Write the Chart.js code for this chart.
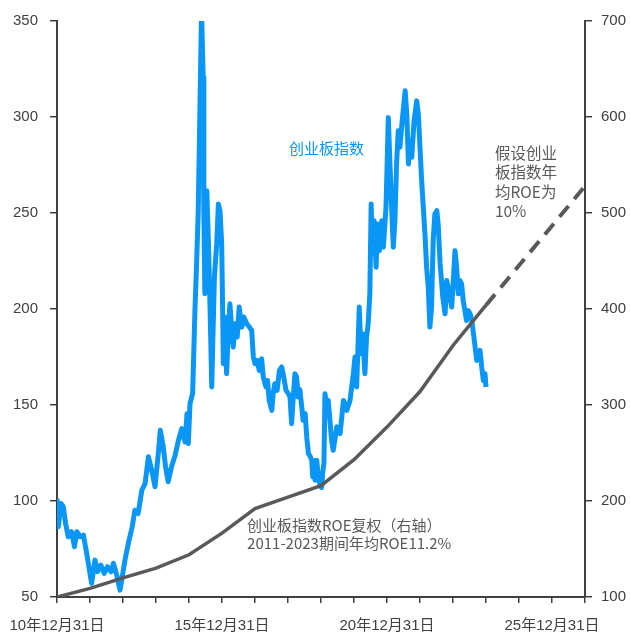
<!DOCTYPE html>
<html>
<head>
<meta charset="utf-8">
<script src="https://cdn.jsdelivr.net/npm/chart.js@4"></script>
<style>
  html, body { margin: 0; padding: 0; background: #fff; }
  #wrap { width: 630px; height: 632px; }
</style>
</head>
<body>
<div id="wrap"><canvas id="roeChart" width="630" height="632"></canvas></div>
<script>
// ChiNext index, 2010-12-31 = 100 (left axis)
const idxYears = [
  2011.00, 2011.04, 2011.12, 2011.19, 2011.26, 2011.34, 2011.44, 2011.53, 2011.60, 2011.70,
  2011.80, 2011.90, 2012.00, 2012.05, 2012.15, 2012.23, 2012.33, 2012.43, 2012.53, 2012.64,
  2012.71, 2012.81, 2012.91, 2012.96, 2013.06, 2013.16, 2013.28, 2013.36, 2013.46, 2013.57,
  2013.67, 2013.77, 2013.87, 2013.97, 2014.07, 2014.13, 2014.22, 2014.29, 2014.37, 2014.47,
  2014.58, 2014.68, 2014.78, 2014.88, 2014.94, 2014.98, 2015.03, 2015.11, 2015.18, 2015.23,
  2015.28, 2015.33, 2015.38, 2015.43, 2015.45, 2015.48, 2015.51, 2015.54, 2015.59, 2015.64,
  2015.69, 2015.72, 2015.77, 2015.84, 2015.89, 2015.94, 2015.99, 2016.02, 2016.04, 2016.09,
  2016.14, 2016.19, 2016.24, 2016.29, 2016.34, 2016.39, 2016.46, 2016.52, 2016.60, 2016.66,
  2016.75, 2016.83, 2016.90, 2016.95, 2017.00, 2017.07, 2017.13, 2017.20, 2017.25, 2017.33,
  2017.38, 2017.43, 2017.51, 2017.55, 2017.60, 2017.67, 2017.74, 2017.81, 2017.87, 2017.94,
  2018.01, 2018.06, 2018.11, 2018.16, 2018.21, 2018.26, 2018.31, 2018.36, 2018.41, 2018.46,
  2018.52, 2018.57, 2018.62, 2018.68, 2018.72, 2018.75, 2018.80, 2018.82, 2018.87, 2018.92,
  2018.97, 2019.02, 2019.05, 2019.09, 2019.12, 2019.17, 2019.22, 2019.32, 2019.37, 2019.48,
  2019.58, 2019.68, 2019.78, 2019.88, 2019.98, 2020.03, 2020.08, 2020.16, 2020.21, 2020.26,
  2020.33, 2020.38, 2020.43, 2020.48, 2020.52, 2020.57, 2020.61, 2020.67, 2020.71, 2020.77,
  2020.84, 2020.89, 2020.97, 2021.04, 2021.09, 2021.14, 2021.19, 2021.24, 2021.29, 2021.34,
  2021.39, 2021.47, 2021.55, 2021.60, 2021.65, 2021.70, 2021.75, 2021.82, 2021.90, 2021.95,
  2022.00, 2022.05, 2022.10, 2022.15, 2022.20, 2022.25, 2022.30, 2022.35, 2022.40, 2022.45,
  2022.51, 2022.55, 2022.61, 2022.69, 2022.76, 2022.81, 2022.89, 2022.96, 2023.01, 2023.06,
  2023.11, 2023.16, 2023.21, 2023.26, 2023.31, 2023.36, 2023.41, 2023.46, 2023.52, 2023.57,
  2023.62, 2023.67, 2023.72, 2023.77, 2023.82, 2023.87, 2023.92, 2023.97, 2024.00
];
const idxValues = [
  101.3, 86.6, 98.7, 97.0, 88.3, 81.4, 84.0, 76.2, 84.0, 81.4,
  82.2, 72.7, 62.3, 57.1, 69.2, 63.2, 66.6, 62.3, 65.8, 63.2,
  67.5, 61.4, 53.6, 58.8, 69.2, 77.9, 86.6, 95.2, 93.5, 105.6,
  109.1, 123.0, 116.0, 107.4, 124.7, 136.8, 128.2, 117.8, 110.0, 117.8,
  123.8, 131.6, 137.7, 130.8, 145.5, 129.9, 150.7, 155.9, 199.2, 223.5,
  251.0, 303.0, 355.0, 320.6, 251.0, 208.0, 244.0, 261.6, 234.0, 199.0,
  159.4, 182.0, 216.6, 234.0, 254.7, 251.0, 234.0, 199.0, 171.5, 195.8,
  166.3, 188.8, 202.7, 190.6, 180.2, 192.3, 185.4, 201.0, 190.6, 195.8,
  192.3, 190.6, 188.8, 175.0, 171.5, 173.2, 168.0, 174.1, 164.6, 159.4,
  162.8, 152.4, 147.2, 155.9, 161.1, 157.6, 168.0, 169.8, 164.6, 157.6,
  155.9, 154.2, 140.3, 154.2, 166.3, 164.6, 154.2, 158.0, 150.0, 142.0,
  145.5, 133.0, 124.7, 123.0, 121.2, 112.6, 121.0, 110.8, 121.2, 112.6,
  108.2, 107.0, 114.3, 120.0, 155.9, 150.0, 152.4, 131.6, 126.4, 138.6,
  135.1, 152.4, 147.2, 152.4, 166.3, 175.0, 159.4, 201.0, 176.7, 187.1,
  166.3, 185.4, 192.3, 207.9, 254.7, 228.7, 246.0, 221.8, 244.3, 230.4,
  246.0, 232.2, 253.0, 299.7, 275.5, 253.0, 232.2, 246.0, 275.5, 292.8,
  284.2, 299.7, 313.7, 301.5, 275.5, 287.6, 279.0, 298.0, 308.4, 301.5,
  284.2, 266.8, 253.0, 239.1, 221.8, 211.4, 190.6, 201.0, 235.7, 249.5,
  251.2, 244.3, 223.5, 206.2, 197.5, 214.8, 207.9, 201.0, 214.8, 230.4,
  221.8, 207.9, 214.8, 213.1, 204.4, 199.2, 194.0, 199.2, 197.5, 194.0,
  187.1, 180.2, 173.2, 176.7, 178.4, 169.8, 162.8, 166.3, 159.4
];

// ROE compounded (right axis), year-end points
const roeYears = [2011, 2012, 2013, 2014, 2015, 2016, 2017, 2018, 2019, 2020, 2021, 2022, 2023, 2024];
const roeValues = [100, 109, 120, 130, 144, 166.5, 192, 204, 216, 243, 277, 314, 362, 404];

// assumed 10% ROE extension (dashed)
const projYears = [2024, 2027];
const projValues = [404, 528];

// x axis
const xMin = 2011;
const xMax = 2027;
const labelEvery = 5;

const FONT = "'Liberation Sans', 'Noto Sans CJK SC', sans-serif";
const CJK = "'Noto Sans CJK SC', 'Liberation Sans', sans-serif";
const AXIS = "#404040";
const BLUE = "#0996f6";
const GREY = "#595959";

const toXY = (xs, ys) => xs.map((x, i) => ({ x, y: ys[i] }));

// text annotations placed in data coordinates
const notes = [
  { lines: ["创业板指数"], x: 2018.03, y: 283.5, axis: "y", color: BLUE, size: 15, gap: 19 },
  { lines: ["创业板指数ROE复权（右轴）", "2011-2023期间年均ROE11.2%"], x: 2016.76, y: 87.4, axis: "y", color: GREY, size: 15, gap: 18 },
  { lines: ["假设创业", "板指数年", "均ROE为", "10%"], x: 2024.27, y: 562.7, axis: "y1", color: GREY, size: 15.5, gap: 19.5 },
];

const notePlugin = {
  id: "notes",
  afterDatasetsDraw(chart) {
    const ctx = chart.ctx;
    const xs = chart.scales.x;
    ctx.save();
    notes.forEach((n) => {
      const px = xs.getPixelForValue(n.x);
      const py = chart.scales[n.axis].getPixelForValue(n.y);
      ctx.font = n.size + "px " + CJK;
      ctx.fillStyle = n.color;
      ctx.textAlign = "left";
      ctx.textBaseline = "middle";
      n.lines.forEach((t, i) => ctx.fillText(t, px, py + i * n.gap));
    });
    ctx.restore();
  },
};

new Chart(document.getElementById("roeChart"), {
  type: "line",
  data: {
    datasets: [
      {
        label: "创业板指数",
        data: toXY(idxYears, idxValues),
        yAxisID: "y",
        borderColor: BLUE,
        borderWidth: 5,
        pointRadius: 0,
        tension: 0,
        borderJoinStyle: "round",
        order: 1,
      },
      {
        label: "ROE复权",
        data: toXY(roeYears, roeValues),
        yAxisID: "y1",
        borderColor: GREY,
        borderWidth: 3.5,
        pointRadius: 0,
        tension: 0,
        order: 0,
      },
      {
        label: "假设10%",
        data: toXY(projYears, projValues),
        yAxisID: "y1",
        borderColor: GREY,
        borderWidth: 4,
        borderDash: [14, 9],
        pointRadius: 0,
        tension: 0,
        order: 0,
      },
    ],
  },
  options: {
    responsive: false,
    animation: false,
    devicePixelRatio: 1,
    layout: { padding: { top: 20, left: 0, right: 0, bottom: 0 } },
    plugins: { legend: { display: false }, tooltip: { enabled: false } },
    scales: {
      x: {
        type: "linear",
        min: xMin,
        max: xMax,
        afterFit: (s) => {
          s.height = 35;
          s.paddingLeft = 0;
          s.paddingRight = 0;
        },
        afterBuildTicks: (s) => {
          s.ticks = [];
          for (let v = xMin; v <= xMax; v++) s.ticks.push({ value: v });
        },
        ticks: {
          autoSkip: false,
          maxRotation: 0,
          padding: 14,
          color: AXIS,
          font: { size: 15, family: FONT },
          callback: (v) => ((v - xMin) % labelEvery === 0 ? ((v - 1) % 100) + "年12月31日" : ""),
        },
        grid: { drawOnChartArea: false, drawTicks: true, tickLength: 6, color: AXIS, lineWidth: 1.5 },
        border: { display: true, color: AXIS, width: 2 },
      },
      y: {
        position: "left",
        min: 50,
        max: 350,
        afterFit: (s) => { s.width = 57; },
        ticks: { stepSize: 50, padding: 12, color: AXIS, font: { size: 15, family: FONT } },
        grid: { drawOnChartArea: false, drawTicks: true, tickLength: 7, color: AXIS, lineWidth: 1.5 },
        border: { display: true, color: AXIS, width: 2 },
      },
      y1: {
        position: "right",
        min: 100,
        max: 700,
        afterFit: (s) => { s.width = 45; },
        ticks: { stepSize: 100, padding: 9, color: AXIS, font: { size: 15, family: FONT } },
        grid: { drawOnChartArea: false, drawTicks: true, tickLength: 7, color: AXIS, lineWidth: 1.5 },
        border: { display: true, color: AXIS, width: 2 },
      },
    },
  },
  plugins: [notePlugin],
});
</script>
</body>
</html>
